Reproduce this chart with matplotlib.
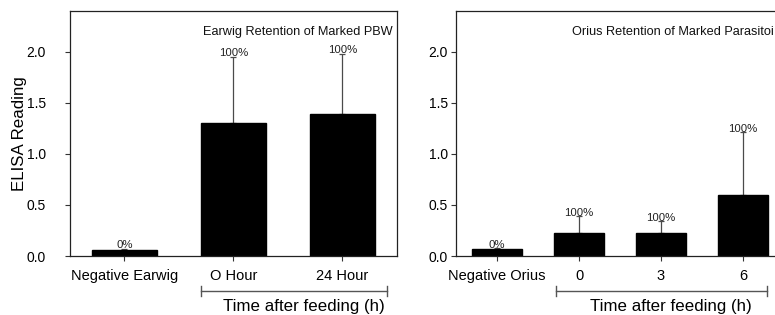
import matplotlib
matplotlib.use("Agg")
import matplotlib.pyplot as plt
import matplotlib.transforms as mtransforms

plt.rcParams['font.family'] = ['Liberation Sans', 'DejaVu Sans']

earwig_cats = ["Negative Earwig", "O Hour", "24 Hour"]
earwig_means = [0.06, 1.30, 1.39]
earwig_err = [0.01, 0.65, 0.59]
earwig_pct = ["0%", "100%", "100%"]
earwig_title = "Earwig Retention of Marked PBW"

orius_cats = ["Negative Orius", "0", "3", "6"]
orius_means = [0.065, 0.23, 0.23, 0.60]
orius_err = [0.01, 0.16, 0.11, 0.61]
orius_pct = ["0%", "100%", "100%", "100%"]
# the reference image cuts this title at the right edge of the figure
orius_title = "Orius Retention of Marked Parasitoi"

y_ticks = [0.0, 0.5, 1.0, 1.5, 2.0]
bracket_label = "Time after feeding (h)"

W, H = 775, 315
fig = plt.figure(figsize=(W / 100, H / 100), dpi=100)
ax1 = fig.add_axes([70 / W, 1 - 256 / H, (397 - 70) / W, 245 / H])
ax2 = fig.add_axes([456 / W, 1 - 256 / H, 328 / W, 245 / H])

err_color = "#4a4a4a"


def draw_panel(ax, cats, means, errs, pcts, title, title_pos, ha, ypad,
               br_x0, br_x1, txt_x):
    x = list(range(len(cats)))
    ax.bar(x, means, width=0.6, color="black", edgecolor="black", zorder=2)
    ax.errorbar(x, means, yerr=[[0] * len(errs), errs], fmt="none",
                ecolor=err_color, elinewidth=0.9, capsize=2.0,
                capthick=0.9, zorder=1)
    for xi, m, e, p in zip(x, means, errs, pcts):
        ax.annotate(p, (xi, m + e), xytext=(0, -1.0), textcoords="offset points",
                    ha="center", va="bottom", fontsize=8.2, color="#222222",
                    zorder=3)
    ax.set_xlim(-0.5, len(cats) - 0.5)
    ax.set_ylim(0, 2.4)
    ax.set_xticks(x)
    ax.set_xticklabels(cats, fontsize=10.5)
    ax.set_yticks(y_ticks)
    ax.set_yticklabels([f"{v:.1f}" for v in y_ticks], fontsize=10)
    ax.tick_params(axis="x", direction="out", length=3.5, width=0.8,
                   pad=6, colors="#333333", labelcolor="black")
    ax.tick_params(axis="y", direction="out", length=3.5, width=0.8,
                   pad=ypad, colors="#333333", labelcolor="black")
    for s in ax.spines.values():
        s.set_linewidth(0.9)
        s.set_color("#222222")
    if ha == "right":
        ttrans = ax.transAxes
    else:
        ttrans = mtransforms.blended_transform_factory(ax.transData, ax.transAxes)
    ax.text(title_pos[0], title_pos[1], title, transform=ttrans,
            ha=ha, va="center", fontsize=9.2, color="#111111")
    trans = mtransforms.blended_transform_factory(ax.transData, ax.transAxes)
    yb = -35 / 245
    tk = 5 / 245
    ax.plot([br_x0, br_x1], [yb, yb], transform=trans, color="#555555",
            lw=1.0, clip_on=False)
    for bx in (br_x0, br_x1):
        ax.plot([bx, bx], [yb - tk, yb + tk], transform=trans,
                color="#555555", lw=1.0, clip_on=False)
    ax.text(txt_x, -55.5 / 245, bracket_label, transform=trans, ha="center",
            va="baseline", fontsize=12.2)


draw_panel(ax1, earwig_cats, earwig_means, earwig_err, earwig_pct,
           earwig_title, (0.988, 0.915), "right", 14, 0.7, 2.41, 1.65)
draw_panel(ax2, orius_cats, orius_means, orius_err, orius_pct,
           orius_title, (0.91, 0.915), "left", 2.5, 0.72, 3.29, 2.12)

ax1.set_ylabel("ELISA Reading", fontsize=12.2)
ax1.yaxis.set_label_coords(-43 / 327, 0.5)

fig.savefig("out.png", dpi=100)
